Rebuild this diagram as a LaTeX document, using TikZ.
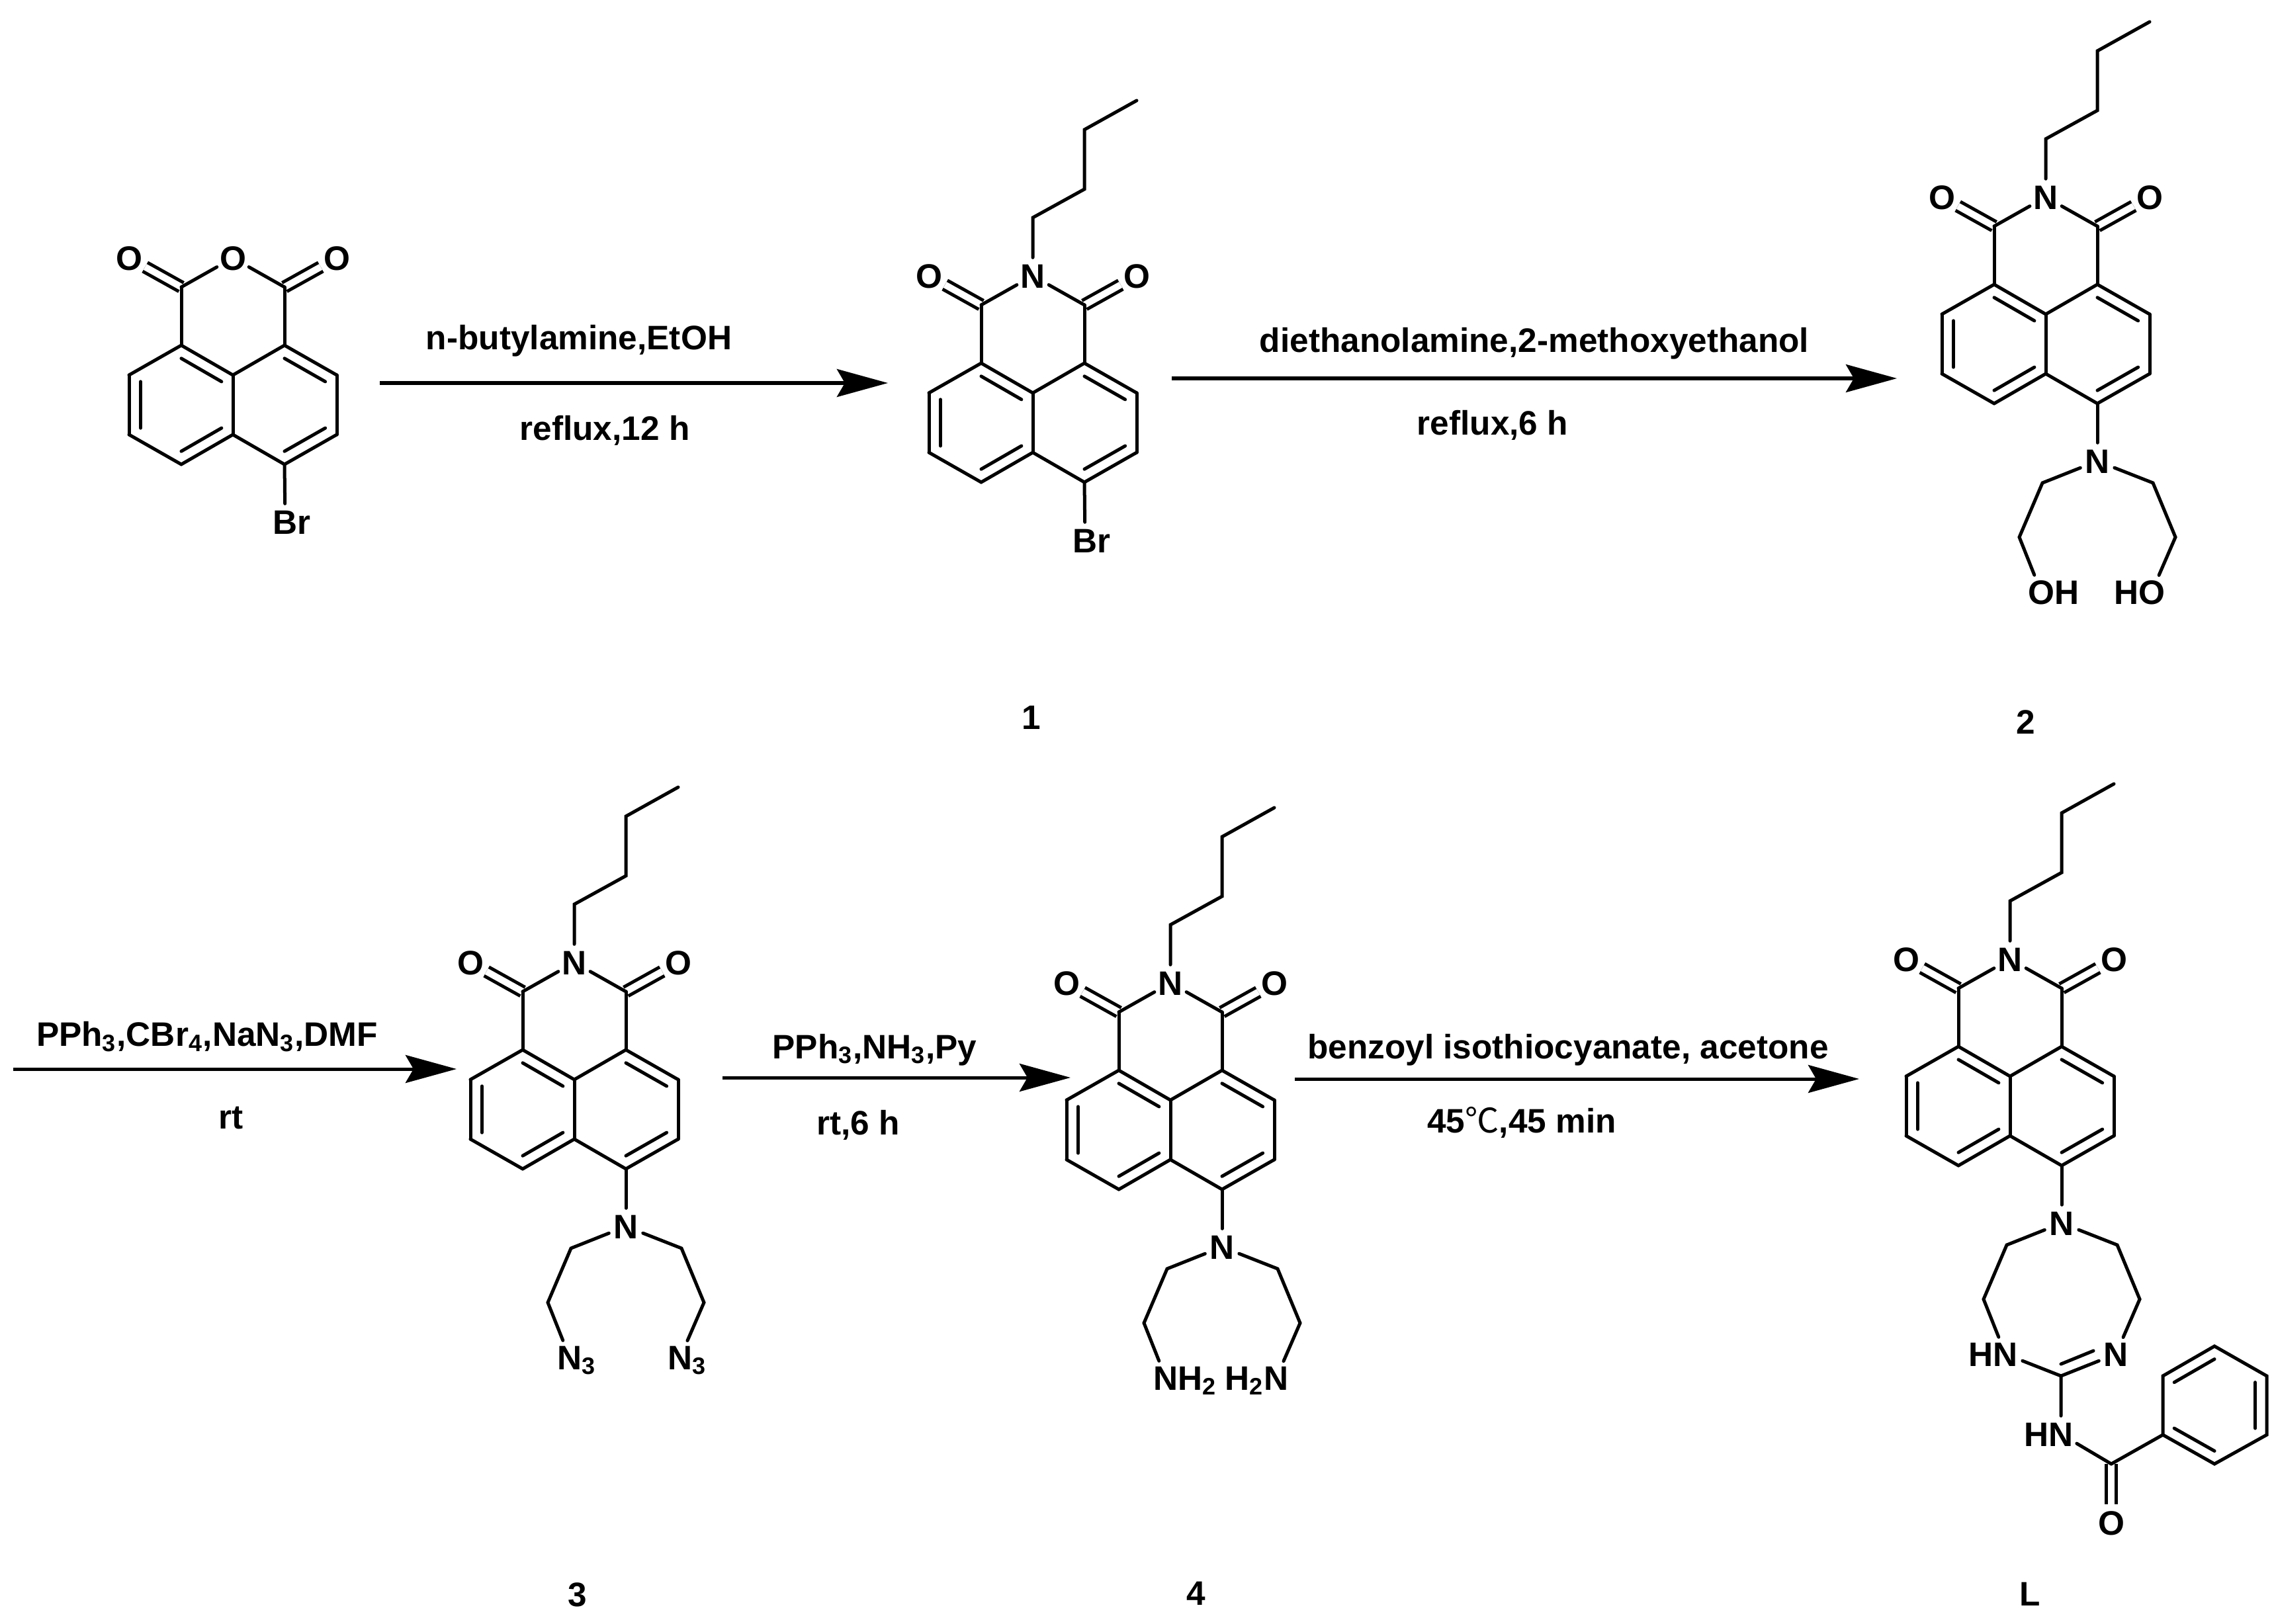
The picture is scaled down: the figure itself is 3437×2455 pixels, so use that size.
\documentclass[tikz,border=0pt]{standalone}
\usepackage{fontspec}
\setmainfont{Liberation Sans}
\newfontfamily\cjk{Noto Sans CJK SC}
\usepackage{tikz}
\usetikzlibrary{calc}
\usetikzlibrary{arrows.meta}
\tikzset{
  bond/.style={line width=0.05cm, line cap=round},
  dbond/.style={line width=0.05cm, double, double distance between line centers=0.15cm},
  atom/.style={circle, inner sep=0pt, minimum size=0.54cm, text height=0.365cm, text depth=0pt},
  lbl/.style={inner sep=0pt},
  rxn/.style={line width=0.05cm, -{Stealth[length=0.77cm, width=0.42cm, inset=0.12cm]}},
  every node/.style={font=\bfseries\fontsize{14.6}{17}\selectfont}
}

% naphthalene ring with the imide (or anhydride) ring on top
\newcommand{\imide}[4]{%
  \begin{scope}[shift={(#2,#3)}]
    \foreach \n/\x/\y in {o/0/0, lc/-78/0, rc/78/0, a/0/-45, b/0/45,
      l1/-78/-90, l2/-157/-45, l3/-157/45, l4/-78/90,
      r1/78/-90, r2/157/-45, r3/157/45, r4/78/90,
      cl/-78/-178, cr/78/-178}{
      \coordinate (#1\n) at (\x,\y);
    }
    \node[atom] (#1x) at (0,-222) {#4};
    \node[atom] (#1ol) at (-157,-222) {O};
    \node[atom] (#1or) at (157,-222) {O};
    \draw[dbond] (#1cl) -- (#1ol);
    \draw[dbond] (#1cr) -- (#1or);
    \foreach \p/\q in {a/b, a/l1, l1/l2, l2/l3, l3/l4, l4/b, a/r1, r1/r2, r2/r3, r3/r4, r4/b,
      l1/cl, r1/cr, cl/x, cr/x}{
      \draw[bond] (#1\p) -- (#1\q);
    }
    \foreach \p/\q/\ctr in {l1/a/lc, l2/l3/lc, l4/b/lc, r1/r2/rc, r3/r4/rc}{
      \draw[bond] ($(#1\p)!.22!(#1\ctr)$) -- ($(#1\q)!.22!(#1\ctr)$);
    }
  \end{scope}
}

% butyl chain on the imide nitrogen
\newcommand{\butyl}[1]{%
  \begin{scope}[shift={(#1o)}]
    \draw[bond] (#1x) -- (0,-310) -- (78,-353) -- (78,-443) -- (157,-487);
  \end{scope}
}

% amine nitrogen with its two arms
\newcommand{\arms}[3]{%
  \begin{scope}[shift={(#1o)}]
    \node[atom] (#1n) at (78,177) {N};
    \node[atom] (#1e) at (-7,375) {#2};
    \node[atom] (#1f) at (160,375) {#3};
    \coordinate (#1p) at (-5,210);
    \coordinate (#1q) at (-40,292);
    \coordinate (#1s) at (162,210);
    \coordinate (#1t) at (196,292);
    \draw[bond] (#1r4) -- (#1n);
    \draw[bond] (#1n) -- (#1p) -- (#1q) -- (#1e);
    \draw[bond] (#1n) -- (#1s) -- (#1t) -- (#1f);
  \end{scope}
}

\begin{document}
\begin{tikzpicture}[x=0.01cm, y=-0.01cm]
\useasboundingbox (0,0) rectangle (3437,2455);

% --- Anhydride ---
\imide{an-}{352}{612}{O}
\node[atom] (an-br) at (431,789) {B\rlap{r}};
\draw[bond] (an-r4) -- (an-br);

% --- Compound 1 ---
\imide{bu-}{1561}{639}{N}
\butyl{bu-}
\node[atom] (bu-br) at (1640,817) {B\rlap{r}};
\draw[bond] (bu-r4) -- (bu-br);

% --- Compound 2 ---
\imide{oh-}{3092}{520}{N}
\butyl{oh-}
\arms{oh-}{O\rlap{H}}{\llap{H}O}

% --- Compound 3 ---
\imide{az-}{868}{1677}{N}
\butyl{az-}
\arms{az-}{N\rlap{\textsubscript{3}}}{N\rlap{\textsubscript{3}}}

% --- Compound 4 ---
\imide{am-}{1769}{1708}{N}
\butyl{am-}
\arms{am-}{N\rlap{H\textsubscript{2}}}{\llap{H\textsubscript{2}}N}

% --- Compound L ---
\imide{li-}{3038}{1672}{N}
\butyl{li-}
\arms{li-}{\llap{H}N}{N}
\coordinate (li-g) at (3115,2080);
\coordinate (li-k) at (3191,2213);
\node[atom] (li-h) at (3115,2168) {\llap{H}N};
\node[atom] (li-ok) at (3191,2302) {O};
\draw[bond] (li-e) -- (li-g) -- (li-h);
\draw[bond] (li-g) -- (li-f);
\draw[bond] ($(li-g)+(0,-18)$) -- ($(li-g)+(49,-38)$);
\draw[dbond] (li-k) -- (li-ok);
\draw[bond] (li-h) -- (li-k);

% --- Benzene ring ---
\foreach \n/\x/\y in {1/3269/2169, 2/3269/2080, 3/3347/2035, 4/3426/2080, 5/3426/2169, 6/3347/2213}{
  \coordinate (ph\n) at (\x,\y);
}
\coordinate (phc) at (3347,2124);
\draw[bond] (li-k) -- (ph1) -- (ph2) -- (ph3) -- (ph4) -- (ph5) -- (ph6) -- (ph1);
\foreach \p/\q in {2/3, 4/5, 6/1}{
  \draw[bond] ($(ph\p)!.22!(phc)$) -- ($(ph\q)!.22!(phc)$);
}

% --- Compound numbers ---
\foreach \n/\x/\y/\t in {lab1/1559/1085/1, lab2/3062/1092/2, lab3/873/2411/3, lab4/1808/2409/4, labL/3068/2410/L}{
  \node[lbl] (\n) at (\x,\y) {\t};
}

% --- Reaction arrows ---
\foreach \n/\xa/\xb/\y in {a1/574/1342/579, a2/1771/2867/572, a3/20/690/1616, a4/1092/1618/1629, a5/1957/2810/1631}{
  \coordinate (\n s) at (\xa,\y);
  \coordinate (\n e) at (\xb,\y);
  \draw[rxn] (\n s) -- (\n e);
}

% --- Reaction conditions ---
\node[lbl] (c1a) at (875,515) {n-butylamine,EtOH};
\node[lbl] (c1b) at (914,651) {reflux,12 h};
\node[lbl] (c2a) at (2319,519) {diethanolamine,2-methoxyethanol};
\node[lbl] (c2b) at (2256,643) {reflux,6 h};
\node[lbl] (c3a) at (313,1567) {PPh\textsubscript{3},CBr\textsubscript{4},NaN\textsubscript{3},DMF};
\node[lbl] (c3b) at (349,1690) {rt};
\node[lbl] (c4a) at (1322,1587) {PPh\textsubscript{3},NH\textsubscript{3},Py};
\node[lbl] (c4b) at (1297,1701) {rt,6 h};
\node[lbl] (c5a) at (2370,1587) {benzoyl isothiocyanate, acetone};
\node[lbl] (c5b) at (2300,1697) {45{\cjk\mdseries ℃},45 min};

\end{tikzpicture}
\end{document}
